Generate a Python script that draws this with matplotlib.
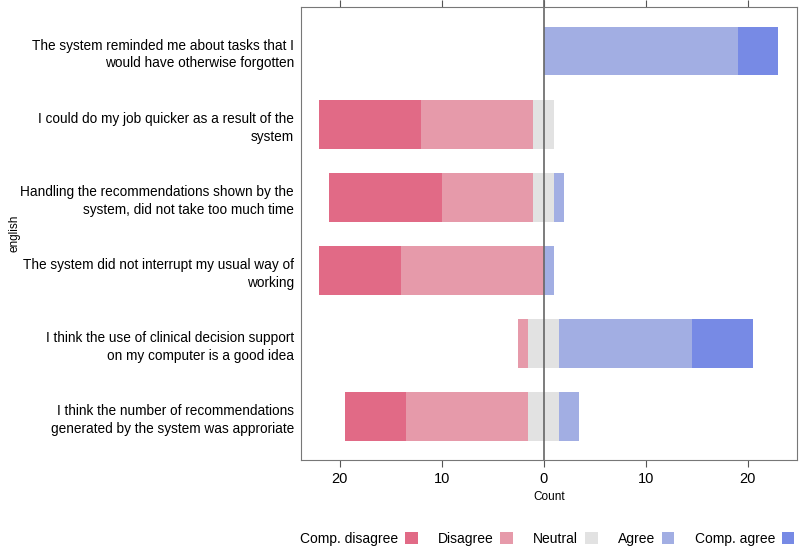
import numpy as np
import matplotlib.pyplot as plt
from matplotlib.patches import Patch

plt.rcParams["font.family"] = ["Liberation Sans", "DejaVu Sans"]

questions = [
    "The system reminded me about tasks that I\nwould have otherwise forgotten",
    "I could do my job quicker as a result of the\nsystem",
    "Handling the recommendations shown by the\nsystem, did not take too much time",
    "The system did not interrupt my usual way of\nworking",
    "I think the use of clinical decision support\non my computer is a good idea",
    "I think the number of recommendations\ngenerated by the system was approriate",
]
levels = ["Comp. disagree", "Disagree", "Neutral", "Agree", "Comp. agree"]
comp_disagree = [0, 10, 11, 8, 0, 6]
disagree = [0, 11, 9, 14, 1, 12]
neutral = [0, 2, 2, 0, 3, 3]
agree = [19, 0, 1, 1, 13, 2]
comp_agree = [4, 0, 0, 0, 6, 0]
colors = ["#E16A86", "#E69AAA", "#E2E2E2", "#A2AEE3", "#778AE5"]
ticks = [-20, -10, 0, 10, 20]
tick_labels = ["20", "10", "0", "10", "20"]

fig = plt.figure(figsize=(8, 5.48), dpi=100)
ax = fig.add_axes([0.376, 0.1606, 0.62, 0.826])

y = np.arange(len(questions), 0, -1)
cd = np.array(comp_disagree, float)
d = np.array(disagree, float)
n = np.array(neutral, float)
a = np.array(agree, float)
ca = np.array(comp_agree, float)

h = 0.667
# neutral is split around zero, disagree goes left, agree goes right
ax.barh(y, -n / 2, left=0, height=h, color=colors[2], linewidth=0)
ax.barh(y, n / 2, left=0, height=h, color=colors[2], linewidth=0)
ax.barh(y, -d, left=-n / 2, height=h, color=colors[1], linewidth=0)
ax.barh(y, -cd, left=-n / 2 - d, height=h, color=colors[0], linewidth=0)
ax.barh(y, a, left=n / 2, height=h, color=colors[3], linewidth=0)
ax.barh(y, ca, left=n / 2 + a, height=h, color=colors[4], linewidth=0)

ax.axvline(0, color="#666666", linewidth=1.2, ymax=1.02, clip_on=False)

ax.set_xlim(-23.8, 24.8)
ax.set_ylim(0.4, len(questions) + 0.6)
ax.set_xticks(ticks)
ax.set_xticklabels(tick_labels, fontsize=10.5)
ax.set_yticks(y)
ax.set_yticklabels(questions, fontsize=9.8, linespacing=1.35)
ax.tick_params(axis="y", length=0, pad=5)
ax.tick_params(axis="x", top=True, direction="out", length=5, color="#555555", pad=4)
for s in ax.spines.values():
    s.set_color("#777777")
ax.set_xlabel("Count", fontsize=8.5, labelpad=3)
ax.set_ylabel("english", fontsize=8.5)
ax.yaxis.set_label_coords(-0.565, 0.5)

handles = [Patch(facecolor=c, edgecolor="none") for c in colors]
fig.legend(handles, levels, loc="center", bbox_to_anchor=(0.684, 0.017),
           ncol=5, frameon=False, markerfirst=False, fontsize=10,
           handlelength=0.9, handleheight=0.9, handletextpad=0.5,
           columnspacing=1.45, borderpad=0)

plt.savefig("out.png", dpi=100)
plt.close()
